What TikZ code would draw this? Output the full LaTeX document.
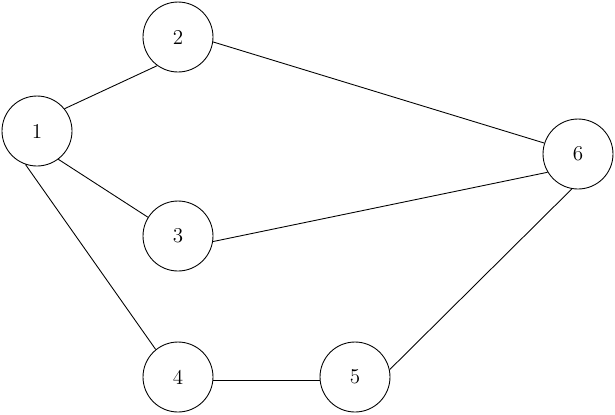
\documentclass[tikz,border=0pt]{standalone}
\usepackage{tikz}
\usetikzlibrary{positioning}

\begin{document}
\begin{tikzpicture}[
x=0.02cm, y=-0.02cm,
every node/.style={draw, circle, minimum size=1.4cm, inner sep=0pt, line width=0.5pt, font=\large},
edge/.style={line width=0.5pt}
]

\useasboundingbox (0,0) rectangle (615,414);

\node (v1) at (37,131) {1};
\node (v2) at (178,37) {2};
\node (v3) at (178,236) {3};
\node (v4) at (178,377) {4};
\node (v5) at (355,377) {5};
\node (v6) at (578,154) {6};

\draw[edge] (v1.39) -- (v2.234);
\draw[edge] (v1.-53) -- (v3.148);
\draw[edge] (v1.251) -- (v4.129);
\draw[edge] (v2.-8) -- (v6.162);
\draw[edge] (v3.-9) -- (v6.211);
\draw[edge] (v4.-6) -- (v5.186);
\draw[edge] (v5.12) -- (v6.260);

\end{tikzpicture}
\end{document}
